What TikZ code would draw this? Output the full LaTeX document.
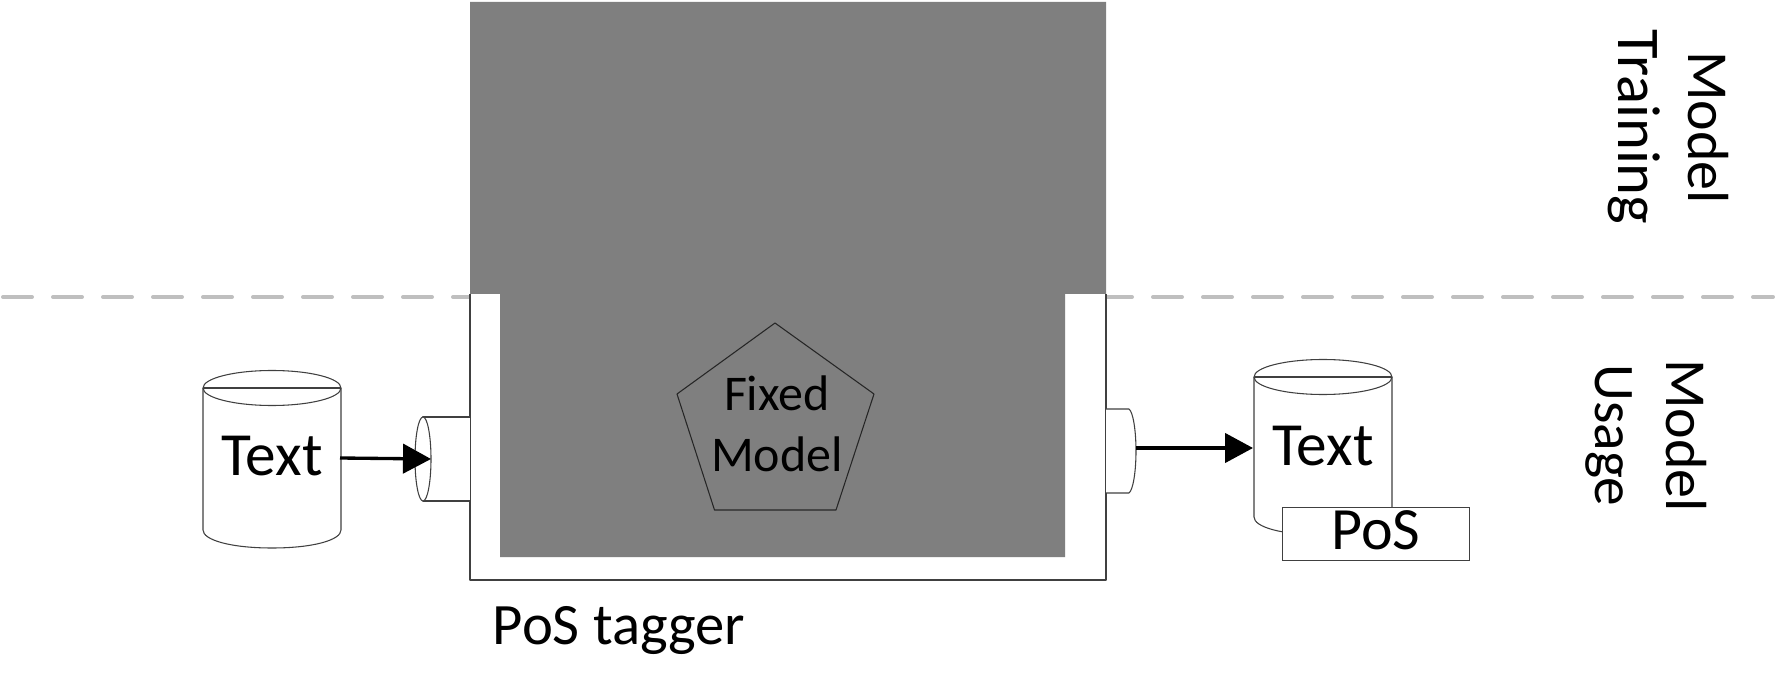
\documentclass[tikz,border=0pt]{standalone}
\usepackage{fontspec}
\setmainfont{Carlito}
\usetikzlibrary{arrows.meta}
\definecolor{boxgray}{HTML}{7F7F7F}
\definecolor{dashgray}{HTML}{BFBFBF}
\definecolor{edgecol}{HTML}{404040}
\tikzset{
  outl/.style={draw=edgecol,line width=0.8pt,line join=round},
  lab/.style={font=\fontsize{#1}{#1}\selectfont,inner sep=0pt,outer sep=0pt,anchor=base,text=black},
  lab/.default=45,
  flow/.style={draw=black,line width=2.5pt,-{Triangle[length=21pt,width=22pt]}},
  sep/.style={draw=dashgray,line width=3pt,line cap=round,dash pattern=on 21.75pt off 15.75pt}
}
\newcommand{\dbcyl}[4]{% left, right, mid y, body end y
  \pgfmathsetmacro{\cm}{(#1+#2)/2}
  \pgfmathsetmacro{\ca}{#1+0.2*(#2-#1)}
  \pgfmathsetmacro{\cb}{#2-0.2*(#2-#1)}
  \draw[outl,fill=white] (#1,#3) -- (#1,#4) .. controls (#1,#4+10) and (\ca,#4+18) .. (\cm,#4+18)
     .. controls (\cb,#4+18) and (#2,#4+10) .. (#2,#4) -- (#2,#3);
  \draw[outl,fill=white] (\cm,#3) ellipse [x radius={(#2-#1)/2},y radius=17.5];
  \draw[outl] (#1,#3) -- (#2,#3);
}
\begin{document}
\begin{tikzpicture}[x=0.75pt,y=-0.75pt]
\useasboundingbox (0,0) rectangle (1775,691);
\coordinate (sepL) at (3,297);
\coordinate (sepR) at (1773,297);
\draw[sep] (sepL) -- (sepR);
% tagger box
\draw[outl,fill=white] (470,294) -- (470,580) -- (1106,580) -- (1106,294);
\fill[boxgray] (470,2) -- (1106,2) -- (1106,294) -- (1065,294) -- (1065,557) -- (500,557) -- (500,294) -- (470,294) -- cycle;
\draw[draw=black!85,line width=0.8pt,line join=round] (775,323) -- (874,394) -- (836,510) -- (714.5,510) -- (677,394) -- cycle;
\node[lab=37.5] (fixed) at (777,411) {Fixed};
\node[lab=37.5] (model) at (777,472) {Model};
\node[lab=44] (tagger) at (619,644) {PoS tagger};
% input port
\draw[outl,fill=white] (470,417) -- (423,417) -- (423,501) -- (470,501);
\draw[outl,fill=white] (423,459) ellipse [x radius=8,y radius=42];
\coordinate (portIn) at (431,459);
% output port
\draw[outl,fill=white] (1106,409) -- (1129,409) .. controls (1133,412) and (1136,430) .. (1136,451)
   .. controls (1136,472) and (1133,490) .. (1129,493) -- (1106,493);
\coordinate (portOut) at (1136,448);
% stores
\dbcyl{203}{341}{388}{530}
\node[lab=46] (textA) at (272,475) {Text};
\coordinate (cylA) at (340,458);
\dbcyl{1254}{1392}{377}{517}
\node[lab=46] (textB) at (1323,466) {Text};
\coordinate (cylB) at (1253,448);
\node[draw=edgecol,line width=0.8pt,fill=white,minimum width=140.25pt,minimum height=39.75pt,inner sep=0pt,anchor=north west] (posbox) at (1282,507) {};
\node[lab=45] (pos) at (1376,549) {PoS};
% arrows
\draw[flow] (cylA) -- (portIn);
\draw[flow] (portOut) -- (cylB);
% side labels
\node[lab=43.5,rotate=-90] (mt1) at (1688,127.5) {Model};
\node[lab=45.5,rotate=-90] (mt2) at (1618,127) {Training};
\node[lab=43.5,rotate=-90] (mu1) at (1666,435.5) {Model};
\node[lab=43,rotate=-90] (mu2) at (1595,435.5) {Usage};
\end{tikzpicture}
\end{document}
